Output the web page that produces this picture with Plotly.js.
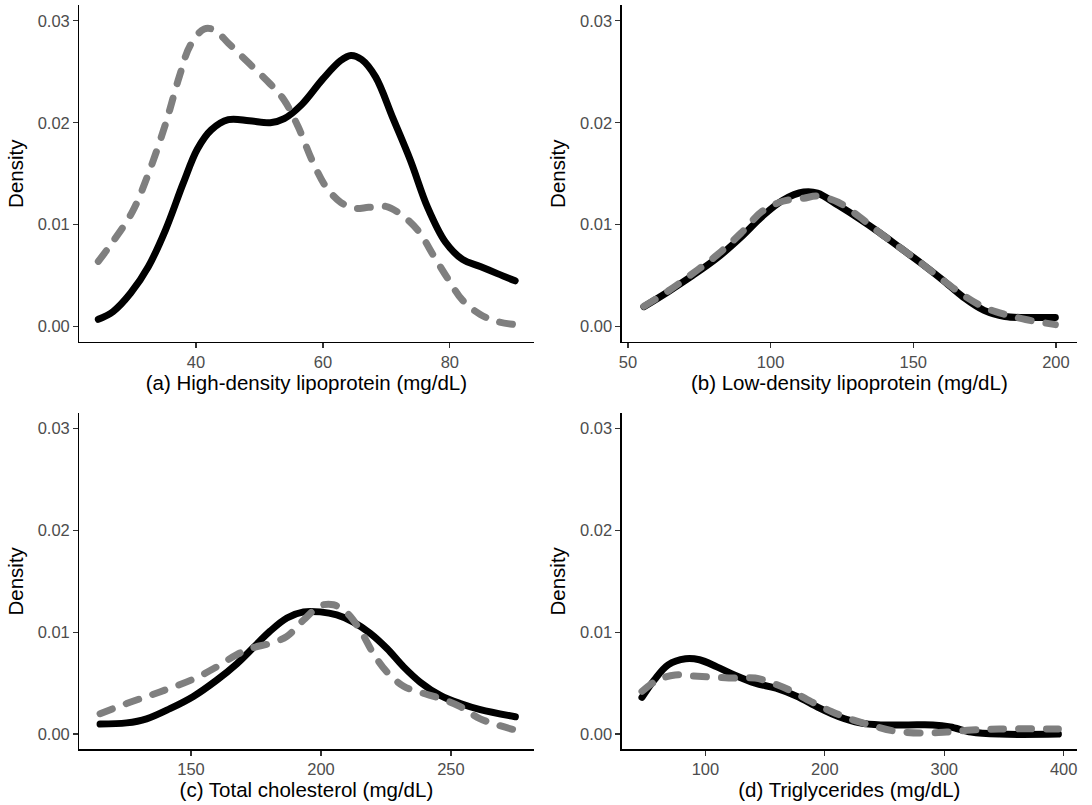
<!DOCTYPE html>
<html>
<head>
<meta charset="utf-8">
<script src="https://cdn.plot.ly/plotly-3.0.1.min.js"></script>
<style>
  html, body { margin: 0; padding: 0; background: #ffffff; }
  #chart { width: 1092px; height: 805px; }
  .scatterlayer path.js-line { stroke-linecap: round; stroke-linejoin: round; }
</style>
</head>
<body>
<div id="chart"></div>
<script>
// ---- Panel (a) High-density lipoprotein ----
const hdlBlackX = [24.6, 26.9, 29.7, 32.5, 35.2, 38.0, 40.2, 42.4, 45.1, 48.4, 51.7, 53.9, 56.7, 60.0, 62.8, 64.4, 66.1, 68.3, 71.0, 73.8, 76.5, 79.3, 82.0, 84.8, 87.5, 90.3];
const hdlBlackY = [0.00072, 0.00147, 0.0033, 0.0059, 0.0095, 0.0141, 0.0174, 0.0193, 0.0203, 0.0202, 0.0200, 0.0204, 0.0218, 0.0243, 0.0261, 0.0266, 0.0262, 0.0245, 0.0205, 0.0163, 0.0117, 0.0083, 0.0066, 0.0059, 0.0052, 0.0045];
const hdlGrayX = [24.6, 27.2, 30.0, 32.5, 35.2, 37.4, 39.1, 41.3, 42.9, 45.1, 48.4, 51.7, 53.9, 56.1, 58.3, 60.5, 62.8, 65.0, 67.2, 69.9, 72.1, 74.9, 77.6, 79.8, 82.0, 84.8, 87.5, 90.3];
const hdlGrayY = [0.0064, 0.0086, 0.0113, 0.0150, 0.0199, 0.0246, 0.0276, 0.0292, 0.0291, 0.0278, 0.0258, 0.0238, 0.0222, 0.0196, 0.0163, 0.0137, 0.0122, 0.0116, 0.0117, 0.0118, 0.0111, 0.0095, 0.0068, 0.0046, 0.0026, 0.0012, 0.0005, 0.0002];

// ---- Panel (b) Low-density lipoprotein ----
const ldlX = [55.6, 64.1, 72.6, 81.1, 89.7, 97.0, 104.3, 111.6, 116.4, 123.7, 131.0, 138.3, 145.6, 152.9, 160.2, 167.5, 174.8, 182.1, 189.4, 199.8];
const ldlBlackY = [0.00196, 0.00343, 0.0050, 0.0067, 0.0088, 0.0108, 0.0124, 0.0132, 0.0131, 0.0119, 0.0106, 0.0092, 0.0077, 0.0062, 0.0046, 0.0029, 0.0016, 0.0010, 0.0009, 0.0009];
const ldlGrayY = [0.0020, 0.0035, 0.0052, 0.0070, 0.0092, 0.0113, 0.0123, 0.0126, 0.0128, 0.0122, 0.0108, 0.0092, 0.0077, 0.0062, 0.0046, 0.0031, 0.0019, 0.0012, 0.0007, 0.0002];

// ---- Panel (c) Total cholesterol ----
const tcBlackX = [115.0, 125.2, 132.9, 141.9, 150.9, 159.9, 167.6, 174.0, 180.4, 186.9, 193.3, 199.7, 206.1, 212.5, 218.9, 225.4, 231.8, 238.2, 245.9, 253.6, 261.3, 274.8];
const tcBlackY = [0.00098, 0.0011, 0.0015, 0.0025, 0.0037, 0.0053, 0.0069, 0.0085, 0.0101, 0.0114, 0.0120, 0.0120, 0.0117, 0.0110, 0.0099, 0.0084, 0.0066, 0.0051, 0.0038, 0.0030, 0.0024, 0.0017];
const tcGrayX = [115.0, 125.2, 134.2, 141.9, 150.9, 159.9, 167.6, 174.0, 180.4, 186.9, 193.3, 199.7, 204.8, 210.0, 215.1, 220.2, 225.4, 231.8, 238.2, 245.9, 253.6, 261.3, 274.8];
const tcGrayY = [0.0020, 0.0030, 0.0038, 0.0045, 0.0054, 0.0066, 0.0078, 0.0085, 0.0089, 0.0096, 0.0112, 0.0126, 0.0127, 0.0119, 0.0102, 0.0079, 0.0061, 0.0047, 0.0041, 0.0035, 0.0027, 0.0015, 0.0004];

// ---- Panel (d) Triglycerides ----
const tgBlackX = [46.9, 57.1, 68.8, 83.4, 95.0, 109.6, 124.2, 141.7, 159.2, 176.7, 194.7, 211.8, 229.3, 246.8, 270.1, 290.5, 305.1, 322.6, 346.0, 395.6];
const tgBlackY = [0.0036, 0.0053, 0.0068, 0.0074, 0.0073, 0.0066, 0.0058, 0.0050, 0.0045, 0.0037, 0.0026, 0.0017, 0.0011, 0.0009, 0.0009, 0.0009, 0.0007, 0.0002, 0.0000, 0.0000];
const tgGrayX = [46.9, 60.0, 74.6, 89.2, 106.7, 124.2, 141.7, 156.3, 170.9, 188.4, 205.9, 223.4, 240.9, 258.4, 281.8, 302.2, 322.6, 346.0, 395.6];
const tgGrayY = [0.0042, 0.0053, 0.0058, 0.0057, 0.0056, 0.0055, 0.0055, 0.0050, 0.0043, 0.0032, 0.0022, 0.0014, 0.0008, 0.0003, 0.0001, 0.0002, 0.0004, 0.0005, 0.0005];

// ---- Axis labels and ticks ----
const xTitles = ["(a) High-density lipoprotein (mg/dL)", "(b) Low-density lipoprotein (mg/dL)", "(c) Total cholesterol (mg/dL)", "(d) Triglycerides (mg/dL)"];
const yTitle = "Density";
const xTicks = [[40, 60, 80], [50, 100, 150, 200], [150, 200, 250], [100, 200, 300, 400]];
const yTicks = [0, 0.01, 0.02, 0.03];
const xRanges = [[21.6, 93.2], [47.8, 207.4], [107, 281.8], [29.9, 411.2]];
const yRange = [-0.0015, 0.0315];

const BLACK = "#000000";
const GRAY = "#7F7F7F";
const LW = 7;

function solid(x, y, ax) {
  return {x: x, y: y, xaxis: "x" + ax, yaxis: "y" + ax, type: "scatter", mode: "lines",
          line: {color: BLACK, width: LW, shape: "spline", smoothing: 1}, hoverinfo: "skip", showlegend: false};
}
function dashed(x, y, ax) {
  return {x: x, y: y, xaxis: "x" + ax, yaxis: "y" + ax, type: "scatter", mode: "lines",
          line: {color: GRAY, width: LW, dash: "13px,15px", shape: "spline", smoothing: 1}, hoverinfo: "skip", showlegend: false};
}

const data = [
  solid(hdlBlackX, hdlBlackY, ""), dashed(hdlGrayX, hdlGrayY, ""),
  solid(ldlX, ldlBlackY, "2"), dashed(ldlX, ldlGrayY, "2"),
  solid(tcBlackX, tcBlackY, "3"), dashed(tcGrayX, tcGrayY, "3"),
  solid(tgBlackX, tgBlackY, "4"), dashed(tgGrayX, tgGrayY, "4")
];

const FONT = "Liberation Sans, Arial, sans-serif";
const xDomains = [[0.0726, 0.4886], [0.5693, 0.9863], [0.0726, 0.4886], [0.5693, 0.9863]];
const yDomains = [[0.5752, 0.9932], [0.5752, 0.9932], [0.0691, 0.4866], [0.0691, 0.4866]];

const layout = {
  width: 1092, height: 805,
  margin: {l: 0, r: 0, t: 0, b: 0},
  paper_bgcolor: "#ffffff", plot_bgcolor: "#ffffff",
  showlegend: false,
  font: {family: FONT}
};

for (let i = 0; i < 4; i++) {
  const s = i === 0 ? "" : String(i + 1);
  layout["xaxis" + s] = {
    domain: xDomains[i], anchor: "y" + s, range: xRanges[i],
    tickmode: "array", tickvals: xTicks[i], ticktext: xTicks[i].map(String),
    showline: true, linecolor: "#000000", linewidth: 1.2,
    ticks: "outside", ticklen: 5, tickwidth: 1.2, tickcolor: "#333333",
    showgrid: false, zeroline: false,
    tickfont: {family: FONT, size: 16.5, color: "#4D4D4D"},
    title: {text: xTitles[i], font: {family: FONT, size: 20.5, color: "#000000"}, standoff: 4}
  };
  layout["yaxis" + s] = {
    domain: yDomains[i], anchor: "x" + s, range: yRange,
    tickmode: "array", tickvals: yTicks, tickformat: ".2f",
    showline: true, linecolor: "#000000", linewidth: 1.2,
    ticks: "outside", ticklen: 5, tickwidth: 1.2, tickcolor: "#333333",
    showgrid: false, zeroline: false,
    tickfont: {family: FONT, size: 16.5, color: "#4D4D4D"},
    title: {text: yTitle, font: {family: FONT, size: 20.5, color: "#000000"}, standoff: 8}
  };
}

Plotly.newPlot("chart", data, layout, {staticPlot: true, displayModeBar: false});
</script>
</body>
</html>
